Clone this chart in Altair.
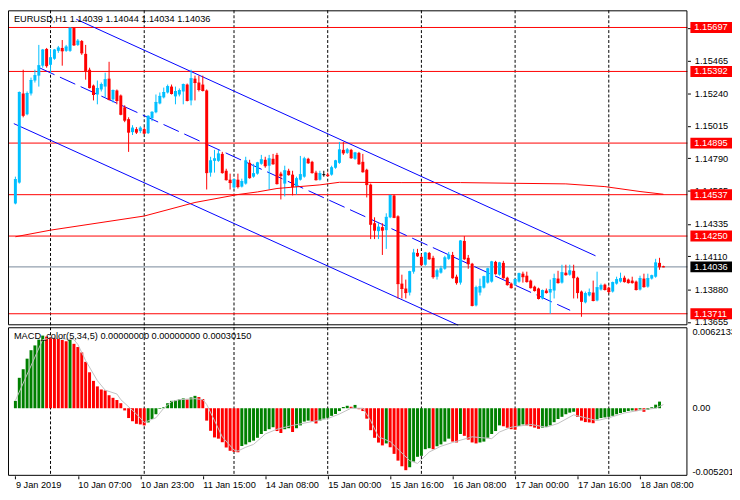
import json
import altair as alt
import pandas as pd

# ---------------- data ----------------
symbol = "EURUSD,H1"
indicator_name = "MACD_color(5,34,5)"
indicator_values = ["0.00000000", "0.00000000", "0.00030150"]

opens = [1.14476, 1.14621, 1.15239, 1.15095, 1.15239, 1.15329, 1.15363, 1.15432, 1.15548, 1.15438,
         1.15480, 1.15535, 1.15555, 1.15535, 1.15535, 1.15693, 1.15576, 1.15603, 1.15514, 1.15404,
         1.15294, 1.15232, 1.15267, 1.15287, 1.15342, 1.15198, 1.15260, 1.15225, 1.15143, 1.15061,
         1.14971, 1.14992, 1.14978, 1.14992, 1.14964, 1.15067, 1.15109, 1.15170, 1.15212, 1.15246,
         1.15287, 1.15219, 1.15232, 1.15253, 1.15301, 1.15191, 1.15342, 1.15315, 1.15301, 1.15260,
         1.14690, 1.14772, 1.14772, 1.14820, 1.14703, 1.14641, 1.14587, 1.14641, 1.14593, 1.14614,
         1.14758, 1.14662, 1.14683, 1.14751, 1.14779, 1.14738, 1.14786, 1.14813, 1.14683, 1.14614,
         1.14703, 1.14676, 1.14593, 1.14641, 1.14662, 1.14786, 1.14765, 1.14690, 1.14641, 1.14676,
         1.14676, 1.14676, 1.14724, 1.14758, 1.14848, 1.14827, 1.14848, 1.14786, 1.14827, 1.14765,
         1.14710, 1.14607, 1.14339, 1.14284, 1.14312, 1.14291, 1.14380, 1.14531, 1.14387, 1.13920,
         1.13886, 1.13858, 1.14003, 1.14133, 1.14106, 1.14051, 1.14133, 1.14099, 1.13968, 1.13996,
         1.14023, 1.14092, 1.14119, 1.13968, 1.13927, 1.14216, 1.14099, 1.14058, 1.13769, 1.13858,
         1.13892, 1.13927, 1.13934, 1.14071, 1.13982, 1.14064, 1.13961, 1.13920, 1.13913, 1.13934,
         1.13989, 1.13975, 1.13941, 1.13899, 1.13886, 1.13817, 1.13872, 1.13858, 1.13872, 1.13955,
         1.13927, 1.13996, 1.13982, 1.14009, 1.13961, 1.13865, 1.13790, 1.13838, 1.13858, 1.13803,
         1.13879, 1.13913, 1.13892, 1.13865, 1.13920, 1.13934, 1.13961, 1.13948, 1.13941, 1.13934,
         1.13879, 1.13955, 1.13899, 1.13955, 1.13968, 1.14064, 1.14039]
highs = [1.14662, 1.15253, 1.15404, 1.15253, 1.15349, 1.15404, 1.15576, 1.15548, 1.15555, 1.15548,
         1.15548, 1.15569, 1.15610, 1.15576, 1.15697, 1.15697, 1.15617, 1.15610, 1.15576, 1.15418,
         1.15301, 1.15329, 1.15315, 1.15383, 1.15459, 1.15267, 1.15267, 1.15232, 1.15157, 1.15074,
         1.15019, 1.15006, 1.15012, 1.15006, 1.15088, 1.15116, 1.15232, 1.15246, 1.15280, 1.15301,
         1.15301, 1.15287, 1.15274, 1.15308, 1.15308, 1.15404, 1.15363, 1.15363, 1.15363, 1.15267,
         1.14800, 1.14848, 1.14848, 1.14834, 1.14717, 1.14683, 1.14648, 1.14683, 1.14648, 1.14800,
         1.14779, 1.14751, 1.14765, 1.14813, 1.14800, 1.14813, 1.14820, 1.14827, 1.14696, 1.14738,
         1.14717, 1.14703, 1.14662, 1.14806, 1.14800, 1.14793, 1.14772, 1.14703, 1.14703, 1.14703,
         1.14690, 1.14738, 1.14779, 1.14903, 1.14903, 1.14861, 1.14855, 1.14834, 1.14834, 1.14820,
         1.14717, 1.14614, 1.14380, 1.14339, 1.14339, 1.14408, 1.14538, 1.14538, 1.14394, 1.13982,
         1.13948, 1.14009, 1.14161, 1.14161, 1.14126, 1.14140, 1.14140, 1.14113, 1.14023, 1.14044,
         1.14113, 1.14140, 1.14140, 1.13982, 1.14222, 1.14250, 1.14119, 1.14064, 1.13906, 1.13955,
         1.13975, 1.14030, 1.14078, 1.14078, 1.14071, 1.14078, 1.13968, 1.13927, 1.13955, 1.13996,
         1.14003, 1.14003, 1.13948, 1.13906, 1.13892, 1.13879, 1.13886, 1.13948, 1.13989, 1.14009,
         1.14051, 1.14051, 1.14051, 1.14051, 1.13968, 1.13872, 1.13865, 1.13886, 1.13941, 1.14003,
         1.13920, 1.13920, 1.13899, 1.13934, 1.13968, 1.13996, 1.13975, 1.13955, 1.13968, 1.13941,
         1.13975, 1.13989, 1.13989, 1.13982, 1.14092, 1.14099, 1.14044]
lows = [1.14470, 1.14614, 1.15074, 1.15088, 1.15225, 1.15315, 1.15287, 1.15418, 1.15418, 1.15383,
        1.15473, 1.15521, 1.15432, 1.15528, 1.15528, 1.15569, 1.15569, 1.15507, 1.15335, 1.15274,
        1.15191, 1.15164, 1.15253, 1.15212, 1.15191, 1.15177, 1.15164, 1.15088, 1.15040, 1.14834,
        1.14951, 1.14958, 1.14964, 1.14958, 1.14958, 1.15047, 1.15102, 1.15164, 1.15205, 1.15239,
        1.15232, 1.15164, 1.15219, 1.15164, 1.15184, 1.15157, 1.15191, 1.15253, 1.15253, 1.14573,
        1.14662, 1.14690, 1.14765, 1.14683, 1.14635, 1.14573, 1.14580, 1.14580, 1.14587, 1.14607,
        1.14648, 1.14655, 1.14676, 1.14745, 1.14724, 1.14573, 1.14745, 1.14607, 1.14504, 1.14525,
        1.14669, 1.14532, 1.14538, 1.14635, 1.14655, 1.14751, 1.14683, 1.14635, 1.14635, 1.14662,
        1.14662, 1.14669, 1.14717, 1.14751, 1.14813, 1.14820, 1.14786, 1.14779, 1.14745, 1.14690,
        1.14518, 1.14229, 1.14229, 1.14229, 1.14119, 1.14161, 1.14374, 1.14374, 1.13817, 1.13817,
        1.13817, 1.13838, 1.13989, 1.14106, 1.14044, 1.14044, 1.14085, 1.13954, 1.13948, 1.13989,
        1.14016, 1.14085, 1.13954, 1.13913, 1.13913, 1.14085, 1.14023, 1.13762, 1.13762, 1.13838,
        1.13886, 1.13920, 1.13927, 1.13982, 1.13975, 1.13954, 1.13906, 1.13886, 1.13906, 1.13927,
        1.13927, 1.13927, 1.13886, 1.13865, 1.13810, 1.13810, 1.13851, 1.13711, 1.13817, 1.13920,
        1.13920, 1.13975, 1.13975, 1.13817, 1.13817, 1.13690, 1.13783, 1.13831, 1.13797, 1.13797,
        1.13872, 1.13872, 1.13851, 1.13858, 1.13913, 1.13927, 1.13927, 1.13920, 1.13920, 1.13872,
        1.13872, 1.13892, 1.13892, 1.13948, 1.13961, 1.14016, 1.14034]
closes = [1.14642, 1.15246, 1.15088, 1.15239, 1.15329, 1.15363, 1.15432, 1.15541, 1.15432, 1.15487,
          1.15541, 1.15555, 1.15535, 1.15562, 1.15693, 1.15576, 1.15603, 1.15521, 1.15397, 1.15280,
          1.15232, 1.15274, 1.15301, 1.15335, 1.15198, 1.15260, 1.15191, 1.15095, 1.15054, 1.14971,
          1.14999, 1.14971, 1.14999, 1.14964, 1.15081, 1.15109, 1.15177, 1.15219, 1.15246, 1.15287,
          1.15239, 1.15253, 1.15260, 1.15301, 1.15191, 1.15342, 1.15315, 1.15267, 1.15260, 1.14690,
          1.14772, 1.14786, 1.14820, 1.14690, 1.14641, 1.14621, 1.14641, 1.14593, 1.14628, 1.14772,
          1.14655, 1.14683, 1.14758, 1.14779, 1.14738, 1.14786, 1.14751, 1.14614, 1.14669, 1.14703,
          1.14676, 1.14593, 1.14648, 1.14676, 1.14786, 1.14758, 1.14690, 1.14641, 1.14683, 1.14676,
          1.14669, 1.14724, 1.14772, 1.14848, 1.14827, 1.14848, 1.14793, 1.14827, 1.14751, 1.14696,
          1.14607, 1.14332, 1.14291, 1.14312, 1.14291, 1.14380, 1.14531, 1.14380, 1.13920, 1.13886,
          1.13858, 1.14003, 1.14133, 1.14113, 1.14051, 1.14133, 1.14092, 1.13968, 1.14009, 1.14023,
          1.14099, 1.14119, 1.13961, 1.13927, 1.14216, 1.14092, 1.14058, 1.13769, 1.13892, 1.13899,
          1.13968, 1.14023, 1.14071, 1.13989, 1.14064, 1.13961, 1.13913, 1.13892, 1.13948, 1.13989,
          1.13968, 1.13934, 1.13892, 1.13872, 1.13817, 1.13872, 1.13858, 1.13879, 1.13955, 1.13927,
          1.13996, 1.13982, 1.14009, 1.13961, 1.13858, 1.13797, 1.13851, 1.13858, 1.13803, 1.13892,
          1.13906, 1.13879, 1.13865, 1.13927, 1.13948, 1.13955, 1.13934, 1.13927, 1.13927, 1.13879,
          1.13955, 1.13899, 1.13955, 1.13975, 1.14064, 1.14037, 1.14036]

# MACD histogram (the current bar has none drawn)
macd_hist = [0.00060, 0.00248, 0.00318, 0.00404, 0.00473, 0.00512, 0.00559, 0.00592, 0.00584, 0.00577,
             0.00572, 0.00566, 0.00556, 0.00546, 0.00559, 0.00525, 0.00499, 0.00455, 0.00378, 0.00293,
             0.00223, 0.00178, 0.00153, 0.00145, 0.00106, 0.00085, 0.00067, 0.00041, -0.00018, -0.00080,
             -0.00106, -0.00127, -0.00132, -0.00140, -0.00116, -0.00088, -0.00049, -0.00005, 0.00008, 0.00041,
             0.00060, 0.00064, 0.00072, 0.00080, 0.00072, 0.00088, 0.00101, 0.00091, 0.00075, -0.00101,
             -0.00184, -0.00238, -0.00248, -0.00277, -0.00320, -0.00347, -0.00355, -0.00359, -0.00308, -0.00295,
             -0.00277, -0.00264, -0.00241, -0.00210, -0.00186, -0.00171, -0.00155, -0.00186, -0.00202, -0.00171,
             -0.00163, -0.00194, -0.00163, -0.00140, -0.00109, -0.00101, -0.00109, -0.00124, -0.00101, -0.00085,
             -0.00078, -0.00062, -0.00047, -0.00023, 0.00010, 0.00020, 0.00012, 0.00027, -0.00008, -0.00023,
             -0.00085, -0.00179, -0.00241, -0.00280, -0.00303, -0.00287, -0.00318, -0.00372, -0.00427, -0.00473,
             -0.00505, -0.00481, -0.00435, -0.00396, -0.00388, -0.00334, -0.00326, -0.00334, -0.00310, -0.00295,
             -0.00272, -0.00248, -0.00272, -0.00279, -0.00210, -0.00225, -0.00256, -0.00279, -0.00287, -0.00279,
             -0.00272, -0.00241, -0.00210, -0.00186, -0.00140, -0.00147, -0.00159, -0.00171, -0.00175, -0.00145,
             -0.00132, -0.00140, -0.00147, -0.00158, -0.00168, -0.00158, -0.00151, -0.00140, -0.00114, -0.00088,
             -0.00070, -0.00049, -0.00036, -0.00029, -0.00070, -0.00101, -0.00113, -0.00116, -0.00122, -0.00091,
             -0.00080, -0.00075, -0.00070, -0.00062, -0.00049, -0.00039, -0.00031, -0.00023, -0.00018, -0.00023,
             -0.00010, -0.00029, -0.00013, 0.00008, 0.00029, 0.00054]

signal_bar = [0, 7, 9, 15, 16, 18, 21, 23, 26, 27, 31, 33, 36, 38, 40, 42, 46, 48, 49, 51,
              53, 56, 57, 59, 61, 64, 67, 71, 76, 80, 83, 86, 89, 91, 93, 96, 98, 101, 103, 106,
              109, 112, 117, 122, 124, 127, 132, 136, 139, 143, 146, 149, 152, 156, 160, 164, 166]
signal_val = [0.00062, 0.00559, 0.00574, 0.00559, 0.00520, 0.00388, 0.00225, 0.00147, 0.00116, 0.00070,
              -0.00047, -0.00116, -0.00078, 0.0, 0.00054, 0.00070, 0.00078, 0.00070, 0.00031, -0.00101,
              -0.00233, -0.00341, -0.00349, -0.00318, -0.00295, -0.00210, -0.00171, -0.00140, -0.00109, -0.00085,
              -0.00047, 0.0, 0.0, -0.00101, -0.00233, -0.00272, -0.00334, -0.00427, -0.00450, -0.00357,
              -0.00310, -0.00279, -0.00233, -0.00248, -0.00194, -0.00155, -0.00132, -0.00155, -0.00124, -0.00054,
              -0.00078, -0.00101, -0.00078, -0.00039, -0.00016, 0.0, 0.00030]

ma_bar = [0, 9, 33, 46, 57, 62, 67, 78, 83, 99, 114, 128, 141, 151, 160, 166]
ma_val = [1.14245, 1.14291, 1.14389, 1.14483, 1.14538, 1.14556, 1.14580, 1.14605, 1.14623, 1.14621,
          1.14621, 1.14616, 1.14612, 1.14593, 1.14559, 1.14540]

levels = [1.15697, 1.15392, 1.14895, 1.14537, 1.14250, 1.13711]
bid = 1.14036

channel_name = ["upper", "upper", "middle", "middle", "lower", "lower"]
channel_bar = [15.6, 148.6, 6.1, 142.1, -0.4, 113.4]
channel_price = [1.15754, 1.14113, 1.15418, 1.13735, 1.15030, 1.13632]

price_ticks = [1.15690, 1.15465, 1.15240, 1.15015, 1.14790, 1.14565, 1.14335, 1.14110, 1.13880, 1.13655]
macd_ticks = [0.0062133, 0.0, -0.005201]
macd_tick_labels = ["0.0062133", "0.00", "-0.005201"]

date_ticks = [0, 16, 32, 48, 64, 80, 96, 112, 128, 144, 160]
date_labels = ["9 Jan 2019", "10 Jan 07:00", "10 Jan 23:00", "11 Jan 15:00", "14 Jan 08:00",
               "15 Jan 00:00", "15 Jan 16:00", "16 Jan 08:00", "17 Jan 00:00", "17 Jan 16:00",
               "18 Jan 08:00"]
day_breaks = [9, 33, 56, 80, 104, 128, 152]

# ---------------- layout / style ----------------
W = 686
PRICE_BOTTOM = 318
MACD_TOP = 320
MACD_BOTTOM = 470
FONT = "Liberation Sans"
FS = 9.3
BULL = "#00bfff"
BEAR = "#ff0000"

xscale = alt.Scale(domain=[-0.625, 170.875], nice=False, zero=False)
pscale = alt.Scale(domain=[1.13631, 1.15816], range=[PRICE_BOTTOM, 0], nice=False, zero=False)
mscale = alt.Scale(domain=[-0.00551, 0.00660], range=[MACD_BOTTOM, MACD_TOP], nice=False, zero=False)

label_expr = f"{json.dumps(date_labels)}[indexof({json.dumps(date_ticks)}, datum.value)]"
xaxis = alt.Axis(values=date_ticks, labelExpr=label_expr, labelAlign="left", labelBaseline="top",
                 labelFont=FONT, labelFontSize=FS, labelColor="black", tickSize=3, tickColor="black",
                 labelPadding=2, domain=False, grid=False, title=None, labelFlush=False,
                 labelOverlap=False, labelBound=False)
paxis = alt.Axis(orient="right", values=price_ticks, format=".5f", labelFont=FONT, labelFontSize=FS,
                 labelColor="black", tickSize=3, tickColor="black", labelPadding=4, domain=False,
                 grid=False, title=None, labelFlush=False, labelOverlap=False, labelBound=False)


def X(field):
    return alt.X(field, type="quantitative", scale=xscale, axis=xaxis)


def PY(field):
    return alt.Y(field, type="quantitative", scale=pscale, axis=paxis)


def PY2(field):
    return alt.Y2(field)


def MY(field):
    return alt.Y(field, type="quantitative", scale=mscale, axis=None)


# ---------------- tables ----------------
n = len(opens)
bars = pd.DataFrame({"i": list(range(n)), "o": opens, "h": highs, "l": lows, "c": closes})
bars["col"] = [BULL if c > o else (BEAR if c < o else "#000000") for o, c in zip(opens, closes)]

hist = pd.DataFrame({"i": list(range(len(macd_hist))), "v": macd_hist, "zero": 0.0})
hcol = []
for k, v in enumerate(macd_hist):
    hcol.append("#008000" if k == 0 or v >= macd_hist[k - 1] else "#ff0000")
hist["col"] = hcol

sig = pd.DataFrame({"i": signal_bar, "v": signal_val})
ma = pd.DataFrame({"i": ma_bar, "p": ma_val})
lv = pd.DataFrame({"p": levels, "txt": [f"{p:.5f}" for p in levels]})
bidf = pd.DataFrame({"p": [bid], "txt": [f"{bid:.5f}"]})
chan = pd.DataFrame({"name": channel_name, "i": channel_bar, "p": channel_price})
mtick = pd.DataFrame({"v": macd_ticks, "txt": macd_tick_labels})
breaks = pd.DataFrame({"i": day_breaks})
one = pd.DataFrame({"k": [0]})
head = pd.DataFrame({"txt": [f"{symbol}  {opens[-1]:.5f} {highs[-1]:.5f} {lows[-1]:.5f} {closes[-1]:.5f}"]})
mhead = pd.DataFrame({"txt": [f"{indicator_name} " + " ".join(indicator_values)]})

# ---------------- price pane ----------------
grid_p = alt.Chart(breaks).mark_rule(color="black", strokeDash=[3, 2], strokeWidth=1).encode(
    x=X("i"), y=alt.value(0), y2=alt.value(PRICE_BOTTOM))
level_lines = alt.Chart(lv).mark_rule(color="#ff0000", strokeWidth=1).encode(
    y=PY("p"), x=alt.value(0), x2=alt.value(W))
bid_line = alt.Chart(bidf).mark_rule(color="#778899", strokeWidth=1).encode(
    y=PY("p"), x=alt.value(0), x2=alt.value(W))
chan_solid = alt.Chart(chan).transform_filter("datum.name != 'middle'").mark_line(
    color="#0000ff", strokeWidth=1).encode(x=X("i"), y=PY("p"), detail="name:N")
chan_dash = alt.Chart(chan).transform_filter("datum.name == 'middle'").mark_line(
    color="#0000ff", strokeWidth=1, strokeDash=[17, 6]).encode(x=X("i"), y=PY("p"))
wicks = alt.Chart(bars).mark_rule(strokeWidth=1).encode(
    x=X("i"), y=PY("l"), y2=PY2("h"), color=alt.Color("col:N", scale=None))
bodies = alt.Chart(bars).mark_bar(size=3).encode(
    x=X("i"), y=PY("o"), y2=PY2("c"), color=alt.Color("col:N", scale=None))
body_min = alt.Chart(bars).mark_tick(orient="horizontal", size=3, thickness=1, opacity=1).encode(
    x=X("i"), y=PY("c"), color=alt.Color("col:N", scale=None))
ma_line = alt.Chart(ma).mark_line(color="#ff0000", strokeWidth=1).encode(x=X("i"), y=PY("p"))
frame_p = alt.Chart(one).mark_rect(fillOpacity=0, stroke="black", strokeWidth=1).encode(
    x=alt.value(0.5), x2=alt.value(W - 0.5), y=alt.value(0.5), y2=alt.value(PRICE_BOTTOM - 0.5))
boxes = alt.Chart(lv).mark_tick(orient="horizontal", size=42, thickness=11, opacity=1,
                                color="#ff0000").encode(y=PY("p"), x=alt.value(W + 24))
box_txt = alt.Chart(lv).mark_text(align="left", baseline="middle", color="white", font=FONT,
                                  fontSize=FS).encode(y=PY("p"), x=alt.value(W + 7), text="txt:N")
bid_box = alt.Chart(bidf).mark_tick(orient="horizontal", size=42, thickness=11, opacity=1,
                                    color="#000000").encode(y=PY("p"), x=alt.value(W + 24))
bid_txt = alt.Chart(bidf).mark_text(align="left", baseline="middle", color="white", font=FONT,
                                    fontSize=FS).encode(y=PY("p"), x=alt.value(W + 7), text="txt:N")
title_txt = alt.Chart(head).mark_text(align="left", baseline="middle", color="black", font=FONT,
                                      fontSize=FS).encode(x=alt.value(6), y=alt.value(9), text="txt:N")

price_pane = alt.layer(grid_p, level_lines, bid_line, chan_solid, chan_dash, wicks, bodies, body_min,
                       ma_line, frame_p, boxes, box_txt, bid_box, bid_txt, title_txt)

# ---------------- MACD pane ----------------
grid_m = alt.Chart(breaks).mark_rule(color="black", strokeDash=[3, 2], strokeWidth=1).encode(
    x=X("i"), y=alt.value(MACD_TOP), y2=alt.value(MACD_BOTTOM))
hist_bars = alt.Chart(hist).mark_bar(size=3).encode(
    x=X("i"), y=MY("v"), y2=alt.Y2("zero"), color=alt.Color("col:N", scale=None))
sig_line = alt.Chart(sig).mark_line(color="#c0c0c0", strokeWidth=1).encode(x=X("i"), y=MY("v"))
frame_m = alt.Chart(one).mark_rect(fillOpacity=0, stroke="black", strokeWidth=1).encode(
    x=alt.value(0.5), x2=alt.value(W - 0.5), y=alt.value(MACD_TOP + 0.5), y2=alt.value(MACD_BOTTOM - 0.5))
mlabels = alt.Chart(mtick).mark_text(align="left", baseline="middle", color="black", font=FONT,
                                     fontSize=FS).encode(y=MY("v"), x=alt.value(W + 5), text="txt:N")
mtitle = alt.Chart(mhead).mark_text(align="left", baseline="middle", color="black", font=FONT,
                                    fontSize=FS).encode(x=alt.value(6), y=alt.value(MACD_TOP + 9), text="txt:N")

macd_pane = alt.layer(grid_m, hist_bars, sig_line, frame_m, mlabels, mtitle)

chart = alt.layer(price_pane, macd_pane).resolve_scale(y="independent").properties(
    width=W, height=MACD_BOTTOM,
    autosize=alt.AutoSizeParams(type="none"),
    padding={"left": 0, "top": 0, "right": 45, "bottom": 16},
    background="white",
).configure_view(stroke=None)

chart.save("out.html", embed_options={"renderer": "svg", "actions": False})
